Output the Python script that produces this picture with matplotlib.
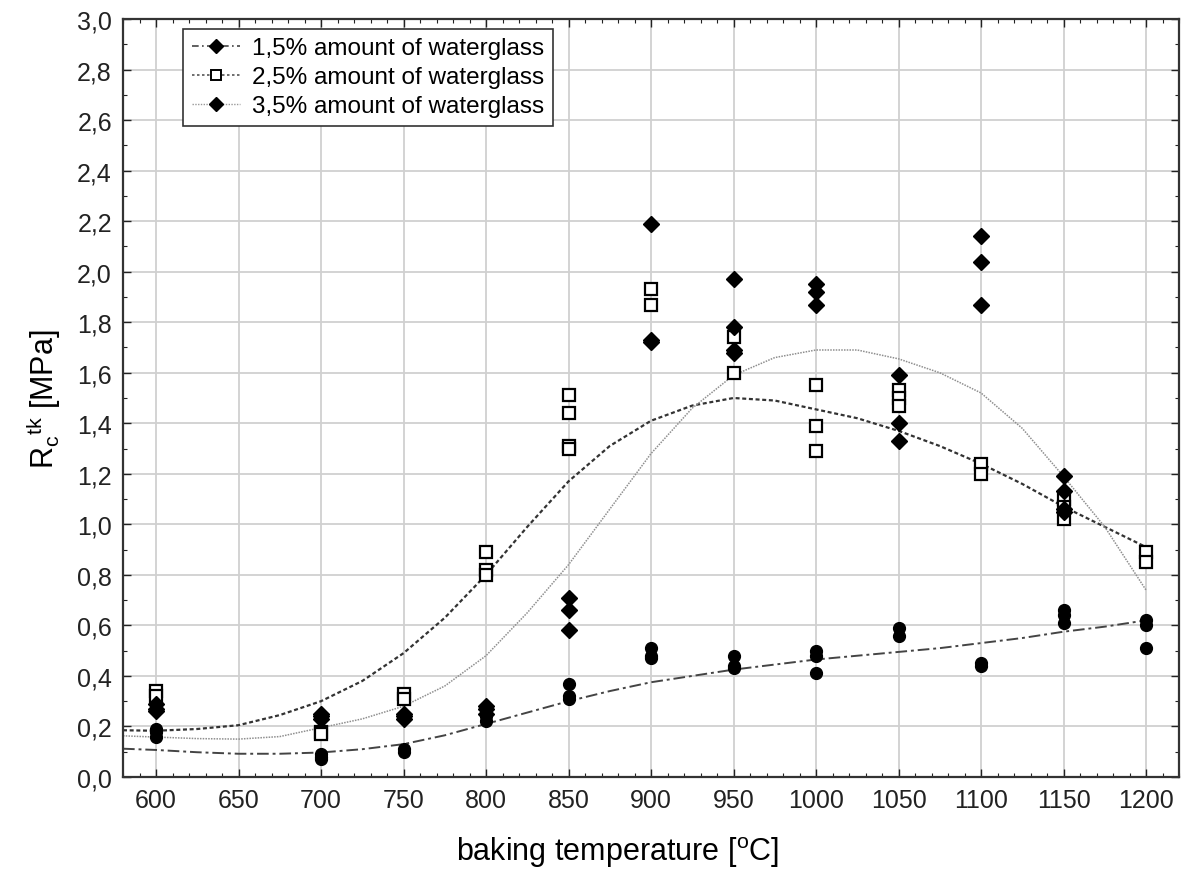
'''
Compressive strength vs baking temperature for three waterglass amounts
'''
import matplotlib
matplotlib.use('Agg')
import matplotlib.pyplot as plt
from matplotlib.lines import Line2D
from matplotlib.ticker import MultipleLocator, FuncFormatter

plt.rcParams['font.family'] = ['Liberation Sans', 'DejaVu Sans']

# measured points (temperature, strength)
t_15 = [600, 600, 600, 700, 700, 700, 750, 750, 800, 800, 850, 850, 850,
        900, 900, 900, 950, 950, 950, 1000, 1000, 1000, 1050, 1050,
        1100, 1100, 1150, 1150, 1150, 1200, 1200, 1200]
r_15 = [0.16, 0.19, 0.18, 0.07, 0.08, 0.09, 0.10, 0.11, 0.22, 0.24, 0.37, 0.32, 0.31,
        0.51, 0.48, 0.47, 0.48, 0.44, 0.43, 0.50, 0.48, 0.41, 0.59, 0.56,
        0.45, 0.44, 0.66, 0.64, 0.61, 0.62, 0.60, 0.51]

t_25 = [600, 600, 700, 700, 750, 750, 800, 800, 800, 850, 850, 850, 850,
        900, 900, 950, 950, 1000, 1000, 1000, 1050, 1050, 1050,
        1100, 1100, 1150, 1150, 1150, 1200, 1200]
r_25 = [0.34, 0.32, 0.18, 0.17, 0.33, 0.31, 0.89, 0.82, 0.80, 1.51, 1.44, 1.31, 1.30,
        1.93, 1.87, 1.74, 1.60, 1.55, 1.39, 1.29, 1.53, 1.50, 1.47,
        1.24, 1.20, 1.10, 1.07, 1.02, 0.89, 0.85]

t_35 = [600, 600, 600, 700, 700, 700, 750, 750, 750, 800, 800, 800, 850, 850, 850,
        900, 900, 900, 950, 950, 950, 950, 1000, 1000, 1000, 1050, 1050, 1050,
        1100, 1100, 1100, 1150, 1150, 1150, 1150]
r_35 = [0.27, 0.29, 0.26, 0.25, 0.23, 0.24, 0.24, 0.23, 0.25, 0.28, 0.27, 0.25, 0.71, 0.66, 0.58,
        2.19, 1.73, 1.72, 1.97, 1.78, 1.69, 1.68, 1.95, 1.92, 1.87, 1.59, 1.40, 1.33,
        2.14, 2.04, 1.87, 1.19, 1.13, 1.06, 1.05]

# fitted curves
t_fit = [580, 600, 625, 650, 675, 700, 725, 750, 775, 800, 825, 850, 875, 900,
         925, 950, 975, 1000, 1025, 1050, 1075, 1100, 1125, 1150, 1175, 1200]
fit_15 = [0.112, 0.107, 0.098, 0.092, 0.092, 0.097, 0.11, 0.13, 0.165, 0.21, 0.255, 0.30, 0.34, 0.375,
          0.40, 0.425, 0.445, 0.465, 0.48, 0.495, 0.51, 0.53, 0.55, 0.575, 0.595, 0.62]
fit_25 = [0.185, 0.183, 0.19, 0.205, 0.245, 0.30, 0.38, 0.49, 0.63, 0.80, 0.99, 1.17, 1.31, 1.41,
          1.47, 1.50, 1.49, 1.455, 1.42, 1.37, 1.31, 1.24, 1.16, 1.07, 0.99, 0.91]
fit_35 = [0.163, 0.158, 0.152, 0.15, 0.16, 0.195, 0.23, 0.28, 0.36, 0.48, 0.65, 0.84, 1.06, 1.28,
          1.46, 1.59, 1.66, 1.69, 1.69, 1.655, 1.60, 1.52, 1.38, 1.19, 0.99, 0.74]

labels = ['1,5% amount of waterglass', '2,5% amount of waterglass', '3,5% amount of waterglass']
x_ticks = list(range(600, 1201, 50))

fig = plt.figure(figsize=(11.95, 8.7), dpi=100)
ax = fig.add_axes([123 / 1195, 92 / 870, 1056 / 1195, 758 / 870])

ax.plot(t_fit, fit_15, color='#444444', lw=1.4, ls=(0, (6, 2, 1.5, 2)))
ax.plot(t_fit, fit_25, color='#333333', lw=1.6, ls=(0, (1.8, 1.2)))
ax.plot(t_fit, fit_35, color='#8f8f8f', lw=1.1, ls=(0, (1, 0.8)))

ax.plot(t_15, r_15, ls='none', marker='o', ms=8.5, color='black')
ax.plot(t_25, r_25, ls='none', marker='s', ms=8, mfc='white', mec='black', mew=1.6)
ax.plot(t_35, r_35, ls='none', marker='D', ms=8, color='black')

# legend handles: line + marker
lh = [Line2D([], [], color='#444444', lw=1.2, ls=(0, (4, 2, 1, 2)), marker='D', ms=7, mfc='black', mec='black'),
      Line2D([], [], color='#555555', lw=1.2, ls=(0, (1.5, 1.5)), marker='s', ms=7, mfc='white', mec='black', mew=1.4),
      Line2D([], [], color='#999999', lw=1.0, ls=(0, (1, 1)), marker='D', ms=7, mfc='black', mec='black')]
leg = ax.legend(lh, labels, loc='upper left', bbox_to_anchor=(0.057, 0.987), fontsize=17.5,
                frameon=True, fancybox=False, edgecolor='#333333', framealpha=1,
                handlelength=2.0, handletextpad=0.5, borderpad=0.35, labelspacing=0.28,
                borderaxespad=0)
leg.get_frame().set_linewidth(1.2)

ax.set_xlim(580, 1220)
ax.set_ylim(0, 3.0)
ax.set_xticks(x_ticks)
ax.xaxis.set_minor_locator(MultipleLocator(10))
ax.yaxis.set_major_locator(MultipleLocator(0.2))
ax.yaxis.set_minor_locator(MultipleLocator(0.1))
ax.yaxis.set_major_formatter(FuncFormatter(lambda v, p: f'{v:.1f}'.replace('.', ',')))
ax.tick_params(which='both', direction='in', top=True, right=True, colors='#222222')
ax.tick_params(which='major', length=6, width=1, pad=8)
ax.tick_params(which='minor', length=3, width=0.8)
for lbl in ax.get_xticklabels() + ax.get_yticklabels():
    lbl.set_family(['Liberation Sans Narrow', 'Liberation Sans'])
    lbl.set_fontsize(18)
ax.grid(True, which='major', color='#d0d0d0', lw=1.3)
ax.set_axisbelow(True)
for s in ax.spines.values():
    s.set_linewidth(1.6)
    s.set_color('#333333')

ax.set_xlabel('baking temperature [$^\\mathregular{o}$C]', fontsize=22)
ax.xaxis.set_label_coords(0.468, -0.076)
ax.set_ylabel('R$_\\mathregular{c}$$^\\mathregular{tk}$ [MPa]', fontsize=22, labelpad=10)

fig.savefig('out.png', dpi=100)
